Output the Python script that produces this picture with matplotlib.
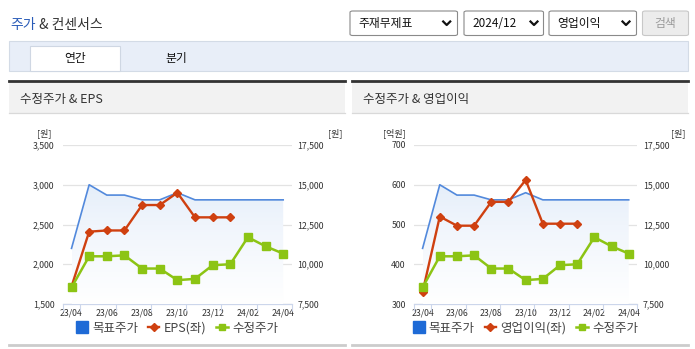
import numpy as np
import matplotlib
matplotlib.use('Agg')
import matplotlib.pyplot as plt
from matplotlib.patches import Rectangle, FancyBboxPatch
from matplotlib.lines import Line2D
from matplotlib.colors import LinearSegmentedColormap
from matplotlib.ticker import StrMethodFormatter

plt.rcParams['font.family'] = ['Noto Sans CJK KR', 'DejaVu Sans']

# data
months = ['23/04', '23/05', '23/06', '23/07', '23/08', '23/09', '23/10',
          '23/11', '23/12', '24/01', '24/02', '24/03', '24/04']
target_price = [11000, 15000, 14350, 14350, 14050, 14050, 14500,
                14050, 14050, 14050, 14050, 14050, 14050]
adj_price = [8540, 10500, 10500, 10560, 9730, 9730, 9000,
             9080, 9940, 10000, 11700, 11130, 10670]
eps = [1720, 2410, 2425, 2425, 2745, 2745, 2900, 2590, 2590, 2590]
op_income = [330, 520, 497, 497, 557, 557, 612, 502, 502, 502]

W, H = 695, 349
fig = plt.figure(figsize=(W / 100, H / 100), dpi=100)

BLUE = '#5289dc'
RED = '#cf4010'
GREEN = '#8cc414'
TXT = '#333333'


def fx(x):
    return x / W


def fy(y):
    return 1 - y / H


def rect(x0, y0, x1, y1, fc, ec='none', lw=0, z=0):
    fig.patches.append(Rectangle((fx(x0), fy(y1)), (x1 - x0) / W, (y1 - y0) / H,
                                 transform=fig.transFigure, fc=fc, ec=ec, lw=lw, zorder=z))


def hline(x0, x1, y, color, lw):
    fig.add_artist(Line2D([fx(x0), fx(x1)], [fy(y), fy(y)], color=color, lw=lw,
                          transform=fig.transFigure))


# title
t1 = fig.text(fx(10), fy(25), '주가', fontsize=10, color='#2a5cb8', va='center')
fig.add_artist(plt.Annotation(' & 컨센서스', xy=(1, 0.5), xycoords=t1, va='center',
                              fontsize=10, color=TXT))

# dropdowns
def dropdown(x0, x1, label, chev):
    fig.patches.append(FancyBboxPatch((fx(x0), fy(35.5)), (x1 - x0) / W, 24.5 / H,
                                      boxstyle='round,pad=0,rounding_size=0.004',
                                      transform=fig.transFigure, fc='white', ec='#8a8a8a', lw=0.8))
    fig.text(fx(x0 + 8), fy(23.5), label, fontsize=8.5, color='#111', va='center')
    fig.add_artist(Line2D([fx(chev - 3.5), fx(chev), fx(chev + 3.5)],
                          [fy(21.5), fy(25), fy(21.5)], color='#111', lw=1.6,
                          transform=fig.transFigure))

dropdown(350, 457.5, '주재무제표', 446.7)
dropdown(464, 543.5, '2024/12', 534)
dropdown(549, 636.5, '영업이익', 626)
fig.patches.append(FancyBboxPatch((fx(642.5), fy(35.5)), 46 / W, 24.5 / H,
                                  boxstyle='round,pad=0,rounding_size=0.004',
                                  transform=fig.transFigure, fc='#ececec', ec='#c8c8c8', lw=0.8))
fig.text(fx(665.5), fy(23.5), '검색', fontsize=8.5, color='#9a9a9a', va='center', ha='center')

# tab bar
rect(9, 41, 688, 70.5, '#e8eef8', '#d3dbe6', 0.8)
rect(29.5, 46.3, 120.3, 71, 'white', '#cfd7e3', 0.8, z=1)
fig.text(fx(75), fy(58.5), '연간', fontsize=8.5, color='#111', ha='center', va='center')
fig.text(fx(176), fy(58.5), '분기', fontsize=8.5, color='#111', ha='center', va='center')


def panel(px0, px1, ax_l, ax_r, left_vals, left_lim, left_ticks, left_fmt,
          left_unit, left_unit_x, right_unit_x, header, red_label):
    # header
    rect(px0, 82, px1, 113, '#f2f2f2')
    hline(px0, px1, 81.2, '#333333', 2.0)
    hline(px0, px1, 113.3, '#d9d9d9', 0.9)
    hline(px0, px1, 345, '#cccccc', 2.0)
    fig.text(fx(px0 + 11), fy(99), header, fontsize=9, color=TXT, va='center')

    ax = fig.add_axes([fx(ax_l), fy(304), (ax_r - ax_l) / W, (304 - 145) / H])
    ax2 = ax.twinx()
    x = np.arange(len(months))
    xr = np.arange(len(left_vals))

    # gradient area under target price
    poly, = ax2.fill(np.r_[x, x[::-1]], np.r_[target_price, [7500] * len(x)],
                     color='none', lw=0)
    cmap = LinearSegmentedColormap.from_list('g', ['#ffffff', '#f0f5fc', '#dbe8f8'])
    im = ax2.imshow(np.linspace(0, 1, 256).reshape(-1, 1), extent=[x[0], x[-1], 7500, 17500],
                    origin='lower', cmap=cmap, aspect='auto', zorder=1)
    im.set_clip_path(poly)

    ax2.plot(x, target_price, color=BLUE, lw=1.2, zorder=2)
    ax2.plot(xr, left_vals, color=RED, lw=1.7, marker='D', ms=4, zorder=3,
             transform=ax.transData, clip_on=False)
    ax2.plot(x, adj_price, color=GREEN, lw=1.8, marker='s', ms=6, zorder=4)

    ax.set_xlim(-0.5, 12.5)
    ax.set_ylim(*left_lim)
    ax2.set_ylim(7500, 17500)
    ax.set_yticks(left_ticks)
    ax.yaxis.set_major_formatter(StrMethodFormatter(left_fmt))
    ax2.set_yticks([7500, 10000, 12500, 15000, 17500])
    ax2.yaxis.set_major_formatter(StrMethodFormatter('{x:,.0f}'))
    ax.set_xticks(x[::2])
    ax.set_xticklabels(months[::2])
    ax.set_xticks([-0.5] + list(np.arange(0.5, 12, 2)) + [12.5], minor=True)
    ax.tick_params(axis='x', which='major', length=0, pad=3, labelsize=6.3, colors=TXT)
    ax.tick_params(axis='x', which='minor', length=5, width=0.8, color='#ccd6eb')
    ax.tick_params(axis='y', length=0, pad=6, labelsize=6.3, colors=TXT)
    ax2.tick_params(axis='y', length=0, pad=4, labelsize=6.3, colors=TXT)
    ax.yaxis.grid(True, color='#e3e3e3', lw=0.9)
    ax.set_axisbelow(True)
    for s in ['top', 'left', 'right']:
        ax.spines[s].set_visible(False)
        ax2.spines[s].set_visible(False)
    ax2.spines['bottom'].set_visible(False)
    ax.spines['bottom'].set_color('#ccd6eb')
    ax.spines['bottom'].set_linewidth(0.9)
    ax.patch.set_visible(False)

    fig.text(fx(left_unit_x), fy(133.5), left_unit, fontsize=6.5, color=TXT, ha='center', va='center')
    fig.text(fx(right_unit_x), fy(133.5), '[원]', fontsize=6.5, color=TXT, ha='center', va='center')

    handles = [
        Line2D([], [], ls='none', marker='s', ms=8.5, color='#1e6ad6'),
        Line2D([], [], color=RED, lw=1.7, marker='D', ms=4),
        Line2D([], [], color=GREEN, lw=1.8, marker='s', ms=5),
    ]
    ax2.legend(handles, ['목표주가', red_label, '수정주가'], loc='center',
               bbox_to_anchor=(0.5, -0.152), ncol=3, frameon=False, fontsize=9,
               handlelength=0.9, handletextpad=0.35, columnspacing=0.8,
               labelcolor='#444444', borderpad=0)


panel(9, 345, 62.7, 292, eps, (1500, 3500), [1500, 2000, 2500, 3000, 3500], '{x:,.0f}',
      '[원]', 44, 335, '수정주가 & EPS', 'EPS(좌)')
panel(352, 688, 414, 637.3, op_income, (300, 700), [300, 400, 500, 600, 700], '{x:.0f}',
      '[억원]', 394, 678, '수정주가 & 영업이익', '영업이익(좌)')

fig.savefig('out.png', dpi=100)
